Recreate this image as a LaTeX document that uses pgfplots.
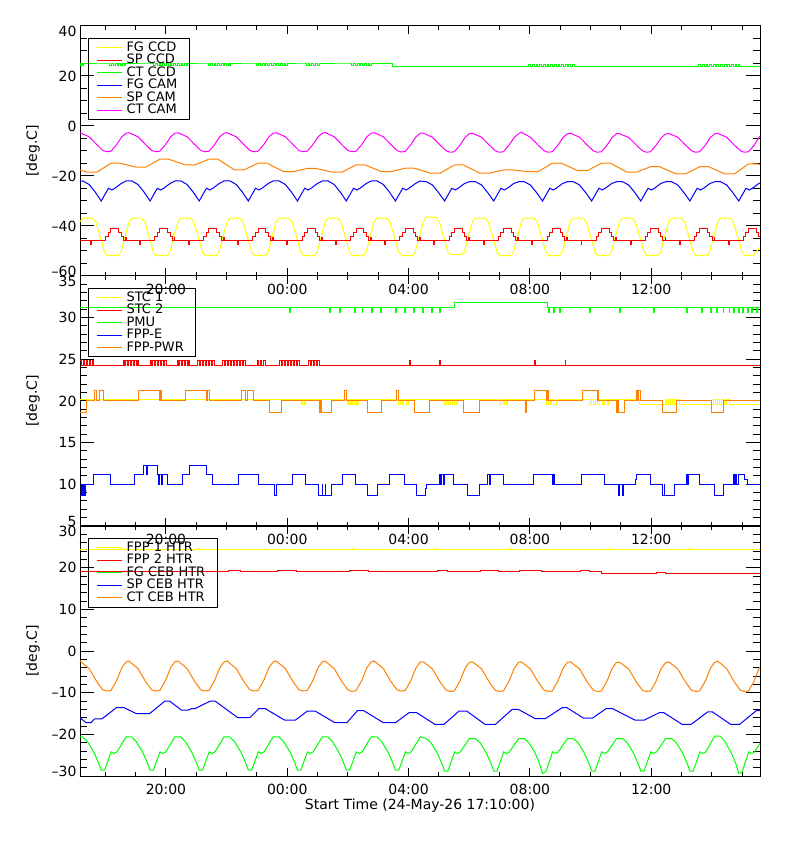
\documentclass[border=0pt]{standalone}
\usepackage{fontspec}
\setmainfont{DejaVu Sans}
\usepackage{pgfplots}
\pgfplotsset{compat=1.18}
\usepackage{pgfplotstable}
\definecolor{pyel}{RGB}{255,255,0}
\definecolor{pred}{RGB}{255,0,0}
\definecolor{pgrn}{RGB}{0,255,0}
\definecolor{pblu}{RGB}{0,0,255}
\definecolor{pora}{RGB}{255,128,0}
\definecolor{pmag}{RGB}{255,0,255}
\newcommand{\up}[1]{\raisebox{4.5pt}[\height][\depth]{#1}}
\newcommand{\dn}[1]{\raisebox{-5pt}[\height][\depth]{#1}}

\pgfplotstableread{
t ctcam ctceb
0.00 -2.7 -2.4
0.30 -4.3 -4.2
0.55 -7.4 -7.3
0.75 -9.8 -9.3
0.88 -10.3 -9.6
1.02 -10.1 -9.5
1.20 -7.6 -7.2
1.38 -4.3 -4.0
1.52 -2.9 -2.6
1.61 -2.7 -2.4
1.91 -4.3 -4.2
2.16 -7.4 -7.3
2.36 -9.8 -9.3
2.49 -10.3 -9.6
2.63 -10.1 -9.5
2.81 -7.6 -7.2
2.99 -4.3 -4.0
3.13 -2.9 -2.6
3.23 -2.7 -2.4
3.53 -4.3 -4.2
3.78 -7.4 -7.3
3.98 -9.8 -9.3
4.11 -10.3 -9.6
4.25 -10.1 -9.5
4.43 -7.6 -7.2
4.61 -4.3 -4.0
4.75 -2.9 -2.6
4.85 -2.7 -2.4
5.15 -4.3 -4.2
5.40 -7.4 -7.3
5.60 -9.8 -9.3
5.73 -10.3 -9.6
5.87 -10.1 -9.5
6.05 -7.6 -7.2
6.23 -4.3 -4.0
6.37 -2.9 -2.6
6.47 -2.7 -2.4
6.77 -4.3 -4.2
7.02 -7.4 -7.3
7.22 -9.8 -9.3
7.35 -10.3 -9.6
7.49 -10.1 -9.5
7.67 -7.6 -7.2
7.85 -4.3 -4.0
7.99 -2.9 -2.6
8.08 -2.6 -2.4
8.38 -4.3 -4.2
8.63 -7.4 -7.3
8.83 -9.8 -9.3
8.96 -10.3 -9.7
9.10 -10.1 -9.5
9.28 -7.6 -7.2
9.46 -4.3 -4.0
9.60 -2.9 -2.6
9.70 -2.7 -2.4
10.00 -4.3 -4.2
10.25 -7.4 -7.3
10.45 -9.8 -9.3
10.58 -10.4 -9.6
10.72 -10.2 -9.5
10.90 -7.6 -7.2
11.08 -4.3 -4.0
11.22 -2.9 -2.6
11.32 -2.9 -2.6
11.62 -4.5 -4.3
11.87 -7.6 -7.4
12.07 -9.9 -9.4
12.20 -10.5 -9.7
12.34 -10.3 -9.6
12.52 -7.8 -7.3
12.70 -4.5 -4.1
12.84 -3.1 -2.7
12.94 -2.9 -2.6
13.24 -4.5 -4.3
13.49 -7.6 -7.4
13.69 -9.9 -9.4
13.82 -10.5 -9.7
13.96 -10.3 -9.6
14.14 -7.8 -7.3
14.32 -4.5 -4.1
14.46 -3.1 -2.7
14.55 -2.5 -2.6
14.85 -4.5 -4.3
15.10 -7.6 -7.4
15.30 -9.9 -9.4
15.43 -10.5 -9.7
15.57 -10.3 -9.6
15.75 -7.8 -7.3
15.93 -4.5 -4.1
16.07 -3.1 -2.7
16.17 -2.9 -2.6
16.47 -4.5 -4.3
16.72 -7.6 -7.4
16.92 -9.9 -9.4
17.05 -10.5 -9.7
17.19 -10.3 -9.6
17.37 -7.8 -7.3
17.55 -4.5 -4.1
17.69 -3.1 -2.7
17.79 -3.1 -2.7
18.09 -4.6 -4.3
18.34 -7.6 -7.4
18.54 -9.9 -9.4
18.67 -10.5 -9.7
18.81 -10.3 -9.6
18.99 -7.8 -7.3
19.17 -4.6 -4.1
19.31 -3.2 -2.8
19.41 -3.0 -2.6
19.71 -4.5 -4.3
19.96 -7.6 -7.4
20.16 -9.9 -9.4
20.29 -10.5 -9.7
20.43 -10.3 -9.6
20.61 -7.8 -7.3
20.79 -4.5 -4.1
20.93 -3.1 -2.7
21.02 -2.9 -2.4
21.32 -4.5 -4.2
21.57 -7.6 -7.4
21.77 -9.9 -9.4
21.90 -10.5 -9.7
22.04 -10.3 -9.6
22.22 -7.8 -7.3
22.40 -4.3 -4.0
22.42 -4.1 -3.8
}\wavetab

\pgfplotsset{
 panel/.style={
  width=680pt,height=250pt,scale only axis,anchor=south west,
  xmin=0,xmax=22.42,
  xtick={2.8333,6.8333,10.8333,14.8333,18.8333},
  xticklabels={20:00,00:00,04:00,08:00,12:00},
  minor xtick={0.8333,1.8333,3.8333,4.8333,5.8333,7.8333,8.8333,9.8333,11.8333,12.8333,13.8333,15.8333,16.8333,17.8333,19.8333,20.8333,21.8333},
  xtick pos=both, ytick pos=both, xticklabel pos=lower, yticklabel pos=left,
  tick align=inside,
  major tick length=14pt, minor tick length=7pt,
  xtick style={/pgfplots/major tick length=8pt,/pgfplots/minor tick length=4pt},
  every tick/.style={black,line width=1pt},
  axis line style={line width=1pt},
  tick label style={font=\fontsize{14}{16}\selectfont},
  xticklabel style={yshift=-4.3pt},
  ylabel={[deg.C]},
  every axis y label/.style={at={(axis description cs:-0.069,0.5)},rotate=90,anchor=center,font=\fontsize{14}{16}\selectfont},
  legend style={at={(axis description cs:0,1)},anchor=north west,xshift=8pt,yshift=-12pt,
    draw=black,line width=1pt,fill=none,inner xsep=8pt,inner ysep=3pt,
    font=\fontsize{13}{14}\selectfont,row sep=0pt,
    nodes={inner xsep=4pt,inner ysep=0pt,text height=9.6pt,text depth=2.9pt}},
  legend cell align=left,
  legend image code/.code={\draw[#1,line width=1pt] (0pt,0pt) -- (25pt,0pt);},
  every axis plot/.append style={line width=1pt},
 }
}

\begin{document}
\begin{tikzpicture}
\path[use as bounding box] (0pt,0pt) rectangle (800pt,850pt);

% ---------------- Panel 1 ----------------
\begin{axis}[panel, at={(80pt,574pt)},
  ymin=-60, ymax=40, ytick={-60,-40,-20,0,20,40},
  yticklabels={\up{–60},–40,–20,0,20,\dn{40}}, minor y tick num=3]
% FG CCD
\addplot[pyel] coordinates {
(0,-38.3)
(0.09,-36.9)(0.42,-36.9)(0.52,-38.3)(0.67,-44.4)(0.81,-50.5)(0.91,-51.9)(1.25,-51.9)(1.35,-50.5)(1.48,-44.4)(1.62,-38.3)
(1.70,-36.9)(2.03,-36.9)(2.13,-38.3)(2.28,-44.4)(2.42,-50.5)(2.52,-51.9)(2.86,-51.9)(2.96,-50.5)(3.09,-44.4)(3.23,-38.3)
(3.32,-36.9)(3.65,-36.9)(3.75,-38.3)(3.90,-44.4)(4.04,-50.5)(4.14,-51.9)(4.48,-51.9)(4.58,-50.5)(4.71,-44.4)(4.85,-38.3)
(4.94,-36.9)(5.27,-36.9)(5.37,-38.3)(5.52,-44.4)(5.66,-50.5)(5.76,-51.9)(6.10,-51.9)(6.20,-50.5)(6.33,-44.4)(6.47,-38.3)
(6.56,-36.9)(6.89,-36.9)(6.99,-38.3)(7.14,-44.4)(7.28,-50.5)(7.38,-51.9)(7.72,-51.9)(7.82,-50.5)(7.95,-44.4)(8.09,-38.3)
(8.17,-36.9)(8.50,-36.9)(8.60,-38.3)(8.75,-44.4)(8.89,-50.5)(8.99,-51.9)(9.33,-51.9)(9.43,-50.5)(9.56,-44.4)(9.70,-38.3)
(9.79,-36.9)(10.12,-36.9)(10.22,-38.3)(10.37,-44.4)(10.51,-50.5)(10.61,-51.9)(10.95,-51.9)(11.05,-50.5)(11.18,-44.4)(11.32,-38.3)
(11.41,-36.4)(11.74,-36.6)(11.84,-38.3)(11.99,-44.4)(12.13,-50.5)(12.23,-51.5)(12.57,-51.5)(12.67,-50.5)(12.80,-44.4)(12.94,-38.3)
(13.03,-36.9)(13.36,-36.9)(13.46,-38.3)(13.61,-44.4)(13.75,-50.5)(13.85,-51.9)(14.19,-51.9)(14.29,-50.5)(14.42,-44.4)(14.56,-38.3)
(14.64,-36.9)(14.97,-36.9)(15.07,-38.3)(15.22,-44.4)(15.36,-50.5)(15.46,-51.9)(15.80,-51.9)(15.90,-50.5)(16.03,-44.4)(16.17,-38.3)
(16.26,-36.9)(16.59,-36.9)(16.69,-38.3)(16.84,-44.4)(16.98,-50.5)(17.08,-51.9)(17.42,-51.9)(17.52,-50.5)(17.65,-44.4)(17.79,-38.3)
(17.88,-36.9)(18.21,-36.9)(18.31,-38.3)(18.46,-44.4)(18.60,-50.5)(18.70,-51.9)(19.04,-51.9)(19.14,-50.5)(19.27,-44.4)(19.41,-38.3)
(19.50,-36.9)(19.83,-36.9)(19.93,-38.3)(20.08,-44.4)(20.22,-50.5)(20.32,-51.9)(20.66,-51.9)(20.76,-50.5)(20.89,-44.4)(21.03,-38.3)
(21.11,-36.9)(21.44,-36.9)(21.54,-38.3)(21.69,-44.4)(21.83,-50.5)(21.93,-51.9)(22.20,-51.9)(22.32,-50.0)(22.42,-48.4)
};
% SP CCD
\addplot[pred, const plot] coordinates {
(0,-46.0)
(0.35,-47.4)(0.38,-46.0)(0.85,-44.2)(0.93,-42.6)(1.02,-41.2)(1.28,-42.6)(1.36,-44.2)(1.43,-46.0)(1.50,-44.6)(1.52,-46.0)
(1.96,-47.4)(1.99,-46.0)(2.46,-44.2)(2.54,-42.6)(2.63,-41.2)(2.89,-42.6)(2.97,-44.2)(3.04,-46.0)(3.11,-44.6)(3.13,-46.0)
(3.58,-47.4)(3.61,-46.0)(4.08,-44.2)(4.16,-42.6)(4.25,-41.2)(4.51,-42.6)(4.59,-44.2)(4.66,-46.0)(4.73,-44.6)(4.75,-46.0)
(5.20,-47.4)(5.23,-46.0)(5.70,-44.2)(5.78,-42.6)(5.87,-41.2)(6.13,-42.6)(6.21,-44.2)(6.28,-46.0)(6.35,-44.6)(6.37,-46.0)
(6.82,-47.4)(6.85,-46.0)(7.32,-44.2)(7.40,-42.6)(7.49,-41.2)(7.75,-42.6)(7.83,-44.2)(7.90,-46.0)(7.97,-44.6)(7.99,-46.0)
(8.43,-47.4)(8.46,-46.0)(8.93,-44.2)(9.01,-42.6)(9.10,-41.2)(9.36,-42.6)(9.44,-44.2)(9.51,-46.0)(9.58,-44.6)(9.60,-46.0)
(10.05,-47.4)(10.08,-46.0)(10.55,-44.2)(10.63,-42.6)(10.72,-41.2)(10.98,-42.6)(11.06,-44.2)(11.13,-46.0)(11.20,-44.6)(11.22,-46.0)
(11.67,-47.4)(11.70,-46.0)(12.17,-44.2)(12.25,-42.6)(12.34,-41.2)(12.60,-42.6)(12.68,-44.2)(12.75,-46.0)(12.82,-44.6)(12.84,-46.0)
(13.29,-47.4)(13.32,-46.0)(13.79,-44.2)(13.87,-42.6)(13.96,-41.2)(14.22,-42.6)(14.30,-44.2)(14.37,-46.0)(14.44,-44.6)(14.46,-46.0)
(14.90,-47.4)(14.93,-46.0)(15.40,-44.2)(15.48,-42.6)(15.57,-41.2)(15.83,-42.6)(15.91,-44.2)(15.98,-46.0)(16.05,-44.6)(16.07,-46.0)
(16.52,-47.4)(16.55,-46.0)(17.02,-44.2)(17.10,-42.6)(17.19,-41.2)(17.45,-42.6)(17.53,-44.2)(17.60,-46.0)(17.67,-44.6)(17.69,-46.0)
(18.14,-47.4)(18.17,-46.0)(18.64,-44.2)(18.72,-42.6)(18.81,-41.2)(19.07,-42.6)(19.15,-44.2)(19.22,-46.0)(19.29,-44.6)(19.31,-46.0)
(19.76,-47.4)(19.79,-46.0)(20.26,-44.2)(20.34,-42.6)(20.43,-41.2)(20.69,-42.6)(20.77,-44.2)(20.84,-46.0)(20.91,-44.6)(20.93,-46.0)
(21.37,-47.4)(21.40,-46.0)(21.87,-44.2)(21.95,-42.6)(22.04,-41.2)(22.30,-42.6)(22.38,-44.2)(22.42,-44.2)
};
% CT CCD
\addplot[pgrn, const plot] coordinates {
(0.00,24.8)(0.03,24.0)(0.06,24.8)(0.09,24.0)(0.12,24.8)
(0.92,24.8)(0.98,24.0)(1.04,24.8)(1.10,24.0)(1.16,24.8)(1.22,24.0)(1.28,24.8)(1.34,24.0)(1.40,24.8)(1.46,24.0)(1.50,24.8)
(2.37,24.8)(2.43,24.0)(2.49,24.8)(2.55,24.0)(2.61,24.8)(2.67,24.0)(2.73,24.8)(2.79,24.0)(2.85,24.8)(2.91,24.0)(2.97,24.8)(3.03,24.0)(3.09,24.8)(3.15,24.0)(3.21,24.8)(3.27,24.0)(3.33,24.8)(3.39,24.0)(3.45,24.8)(3.51,24.0)(3.55,24.8)
(4.18,24.8)(4.24,24.0)(4.30,24.8)(4.36,24.0)(4.42,24.8)(4.48,24.0)(4.54,24.8)(4.60,24.0)(4.66,24.8)(4.72,24.0)(4.78,24.8)(4.84,24.0)(4.90,24.8)(4.94,24.0)(4.97,24.8)
(5.77,24.8)(5.83,24.0)(5.89,24.8)(5.95,24.0)(6.01,24.8)(6.07,24.0)(6.13,24.8)(6.19,24.0)(6.25,24.8)(6.31,24.0)(6.37,24.8)(6.43,24.0)(6.49,24.8)(6.55,24.0)(6.61,24.8)(6.67,24.0)(6.73,24.8)(6.79,24.0)(6.83,24.8)
(7.40,24.8)(7.46,24.0)(7.52,24.8)(7.58,24.0)(7.64,24.8)(7.70,24.0)(7.76,24.8)(7.82,24.0)(7.88,24.8)
(8.90,24.8)(8.96,24.0)(9.02,24.8)(9.08,24.0)(9.14,24.8)(9.20,24.0)(9.26,24.8)(9.32,24.0)(9.38,24.8)(9.44,24.0)(9.50,24.8)(9.56,24.0)(9.60,24.8)
(10.30,23.6)
(14.80,24.4)(14.86,23.6)(14.92,24.4)(14.98,23.6)(15.04,24.4)(15.10,23.6)(15.16,24.4)(15.22,23.6)(15.28,24.4)(15.34,23.6)(15.40,24.4)(15.46,23.6)(15.52,24.4)(15.58,23.6)(15.64,24.4)(15.70,23.6)(15.76,24.4)(15.82,23.6)(15.88,24.4)(15.94,23.6)(16.00,24.4)(16.06,23.6)(16.12,24.4)(16.18,23.6)(16.24,24.4)(16.30,23.6)
(20.40,24.4)(20.46,23.6)(20.52,24.4)(20.58,23.6)(20.64,24.4)(20.70,23.6)(20.76,24.4)(20.82,23.6)(20.88,24.4)(20.94,23.6)(21.00,24.4)(21.06,23.6)(21.12,24.4)(21.18,23.6)(21.24,24.4)(21.30,23.6)(21.36,24.4)(21.42,23.6)(21.48,24.4)(21.54,23.6)(21.60,24.4)(21.66,23.6)(21.72,24.4)(21.76,23.6)
(22.42,23.6)
};
% FG CAM
\addplot[pblu] coordinates {
(0,-22.1)
(0.10,-22.0)(0.30,-23.4)(0.50,-26.4)(0.70,-30.0)(0.85,-26.8)(0.94,-24.9)(1.05,-25.6)(1.15,-24.9)(1.36,-23.0)(1.52,-22.0)
(1.71,-22.0)(1.91,-23.4)(2.11,-26.4)(2.31,-30.0)(2.46,-26.8)(2.55,-24.9)(2.66,-25.6)(2.76,-24.9)(2.97,-23.0)(3.13,-22.0)
(3.33,-22.0)(3.53,-23.4)(3.73,-26.4)(3.93,-30.0)(4.08,-26.8)(4.17,-24.9)(4.28,-25.6)(4.38,-24.9)(4.59,-23.0)(4.75,-22.0)
(4.95,-22.0)(5.15,-23.4)(5.35,-26.4)(5.55,-30.0)(5.70,-26.8)(5.79,-24.9)(5.90,-25.6)(6.00,-24.9)(6.21,-23.0)(6.37,-22.0)
(6.57,-22.0)(6.77,-23.4)(6.97,-26.4)(7.17,-30.0)(7.32,-26.8)(7.41,-24.9)(7.52,-25.6)(7.62,-24.9)(7.83,-23.0)(7.99,-22.0)
(8.18,-22.0)(8.38,-23.4)(8.58,-26.4)(8.78,-30.0)(8.93,-26.8)(9.02,-24.9)(9.13,-25.6)(9.23,-24.9)(9.44,-23.0)(9.60,-22.0)
(9.80,-22.0)(10.00,-23.4)(10.20,-26.4)(10.40,-30.0)(10.55,-26.8)(10.64,-24.9)(10.75,-25.6)(10.85,-24.9)(11.06,-23.0)(11.22,-22.0)
(11.42,-22.3)(11.62,-23.6)(11.82,-26.6)(12.02,-30.0)(12.17,-26.8)(12.26,-24.9)(12.37,-25.6)(12.47,-24.9)(12.68,-23.0)(12.84,-22.3)
(13.04,-22.3)(13.24,-23.6)(13.44,-26.6)(13.64,-30.0)(13.79,-26.8)(13.88,-24.9)(13.99,-25.6)(14.09,-24.9)(14.30,-23.0)(14.46,-22.3)
(14.65,-22.3)(14.85,-23.6)(15.05,-26.6)(15.25,-30.0)(15.40,-26.8)(15.49,-24.9)(15.60,-25.6)(15.70,-24.9)(15.91,-23.0)(16.07,-22.3)
(16.27,-22.3)(16.47,-23.6)(16.67,-26.6)(16.87,-30.0)(17.02,-26.8)(17.11,-24.9)(17.22,-25.6)(17.32,-24.9)(17.53,-23.0)(17.69,-22.3)
(17.89,-22.3)(18.09,-23.6)(18.29,-26.6)(18.49,-30.0)(18.64,-26.8)(18.73,-24.9)(18.84,-25.6)(18.94,-24.9)(19.15,-23.0)(19.31,-22.3)
(19.51,-22.3)(19.71,-23.6)(19.91,-26.6)(20.11,-30.0)(20.26,-26.8)(20.35,-24.9)(20.46,-25.6)(20.56,-24.9)(20.77,-23.0)(20.93,-22.3)
(21.12,-22.3)(21.32,-23.6)(21.52,-26.6)(21.72,-30.0)(21.87,-26.8)(21.96,-24.9)(22.07,-25.6)(22.17,-24.9)(22.38,-23.0)(22.42,-22.8)
};
% SP CAM
\addplot[pora] coordinates {
(0,-17.6)
(0.25,-18.5)(0.55,-18.5)(1.02,-14.9)(1.32,-14.9)
(1.86,-16.5)(2.16,-16.5)(2.63,-13.3)(2.93,-13.3)
(3.48,-15.6)(3.78,-15.6)(4.25,-13.3)(4.55,-13.3)
(5.10,-17.6)(5.40,-17.6)(5.87,-14.9)(6.17,-14.9)
(6.72,-18.3)(7.02,-18.3)(7.49,-17.0)(7.79,-17.0)
(8.33,-18.5)(8.63,-18.5)(9.10,-15.6)(9.40,-15.6)
(9.95,-18.3)(10.25,-18.3)(10.72,-16.9)(11.02,-16.9)
(11.57,-18.9)(11.87,-18.9)(12.34,-15.6)(12.64,-15.6)
(13.19,-18.9)(13.49,-18.9)(13.96,-17.6)(14.26,-17.6)
(14.80,-18.3)(15.10,-18.3)(15.57,-14.9)(15.87,-14.9)
(16.42,-17.9)(16.72,-17.9)(17.19,-14.9)(17.49,-14.9)
(18.04,-18.5)(18.34,-18.5)(18.81,-16.3)(19.11,-16.3)
(19.66,-19.2)(19.96,-19.2)(20.43,-16.3)(20.73,-16.3)
(21.27,-19.2)(21.57,-19.2)(22.04,-15.2)(22.34,-15.2)(22.42,-15.4)
};
% CT CAM
\addplot[pmag] table[x=t,y=ctcam] {\wavetab};
\legend{FG CCD,SP CCD,CT CCD,FG CAM,SP CAM,CT CAM}
\end{axis}

% ---------------- Panel 2 ----------------
\begin{axis}[panel, at={(80pt,324pt)},
  ymin=5, ymax=35, ytick={5,10,15,20,25,30,35},
  yticklabels={\up{5},10,15,20,25,30,\dn{35}}, minor y tick num=4]
% STC 1
\addplot[pyel, const plot] coordinates {
(0,20.15)(7.25,20.15)(7.30,19.6)(7.35,20.15)(7.40,19.6)(7.45,20.15)
(8.80,20.15)(8.83,19.6)(8.86,20.15)(8.89,19.6)(8.92,20.15)(8.95,19.6)(8.98,20.15)(9.04,19.6)(9.10,20.15)(9.16,19.6)(9.18,20.15)
(10.44,20.15)(10.50,19.6)(10.56,20.15)(10.62,19.6)(10.68,20.15)(10.76,19.6)(10.84,20.15)
(11.96,20.15)(12.02,19.6)(12.08,20.15)(12.14,19.6)(12.20,20.15)(12.28,19.6)(12.36,20.15)(12.42,19.6)(12.44,20.15)
(13.77,20.15)(13.83,19.6)(13.89,20.15)(13.95,19.6)(14.01,20.15)(14.07,19.6)(14.09,20.15)
(15.32,20.15)(15.38,19.6)(15.44,20.15)(15.50,19.6)(15.56,20.15)(15.62,19.6)(15.70,20.15)
(16.74,20.15)(16.80,19.6)(16.86,20.15)(16.92,19.6)(16.98,20.15)(17.06,19.6)(17.14,20.15)(17.22,19.6)(17.30,20.15)(17.38,19.6)(17.42,20.15)
(18.45,19.55)(19.30,20.15)(19.35,19.55)(19.40,20.15)(19.46,19.55)(19.52,20.15)(19.60,19.55)(19.68,20.15)(19.76,19.55)
(20.90,20.15)(20.96,19.55)(21.02,20.15)(21.08,19.55)(21.16,20.15)(21.24,19.55)(21.32,20.15)(21.40,19.55)(22.42,19.55)
};
% STC 2
\addplot[pred, const plot] coordinates {
(0,24.9)(0.05,24.25)(0.10,24.9)(0.15,24.25)(0.20,24.9)(0.25,24.25)(0.30,24.9)(0.35,24.25)(0.40,24.9)(0.43,24.25)
(1.42,24.9)(1.46,24.25)(1.51,24.9)(1.56,24.25)(1.61,24.9)(1.66,24.25)(1.71,24.9)(1.76,24.25)(1.81,24.9)(1.86,24.25)(1.91,24.9)(1.93,24.25)
(2.31,24.9)(2.35,24.25)(2.40,24.9)(2.45,24.25)(2.50,24.9)(2.55,24.25)(2.60,24.9)(2.65,24.25)(2.70,24.9)(2.75,24.25)(2.80,24.9)(2.85,24.25)
(3.20,24.9)(3.24,24.25)(3.29,24.9)(3.34,24.25)(3.39,24.9)(3.44,24.25)(3.49,24.9)(3.54,24.25)(3.59,24.9)(3.62,24.25)
(3.89,24.9)(3.93,24.25)(3.98,24.9)(4.03,24.25)(4.08,24.9)(4.13,24.25)(4.18,24.9)(4.23,24.25)(4.28,24.9)(4.33,24.25)(4.38,24.9)(4.43,24.25)
(4.71,24.9)(4.75,24.25)(4.80,24.9)(4.85,24.25)(4.90,24.9)(4.95,24.25)(5.00,24.9)(5.05,24.25)(5.10,24.9)(5.15,24.25)(5.20,24.9)(5.25,24.25)(5.30,24.9)(5.35,24.25)(5.40,24.9)(5.45,24.25)
(5.86,24.9)(5.90,24.25)(5.95,24.9)(6.00,24.25)(6.05,24.9)(6.10,24.25)
(6.59,24.9)(6.63,24.25)(6.68,24.9)(6.73,24.25)(6.78,24.9)(6.83,24.25)(6.88,24.9)(6.93,24.25)(6.98,24.9)(7.03,24.25)(7.08,24.9)(7.13,24.25)(7.18,24.9)(7.23,24.25)
(7.55,24.9)(7.59,24.25)(7.64,24.9)(7.69,24.25)(7.74,24.9)(7.79,24.25)(7.84,24.9)(7.89,24.25)
(10.87,24.9)(10.89,24.25)(11.86,24.9)(11.88,24.25)(15.00,24.9)(15.02,24.25)(16.00,24.9)(16.02,24.25)
(22.42,24.25)
};
% PMU
\addplot[pgrn, const plot] coordinates {
(0,31.2)(6.92,30.6)(6.95,31.2)(8.24,30.6)(8.27,31.2)(8.57,30.6)(8.60,31.2)(9.06,30.6)(9.09,31.2)(9.30,30.6)(9.33,31.2)(9.60,30.6)(9.63,31.2)(9.90,30.6)(9.93,31.2)(10.40,30.6)(10.43,31.2)(10.70,30.6)(10.73,31.2)(11.00,30.6)(11.03,31.2)(11.30,30.6)(11.33,31.2)(11.60,30.6)(11.63,31.2)(11.86,30.6)(11.89,31.2)
(12.36,31.8)(15.42,31.2)(15.45,30.6)(15.48,31.2)(15.60,30.6)(15.63,31.2)(15.80,30.6)(15.83,31.2)(16.80,30.6)(16.83,31.2)(17.80,30.6)(17.83,31.2)(18.90,30.6)(18.93,31.2)(20.00,30.6)(20.03,31.2)(20.50,30.6)(20.53,31.2)(20.80,30.6)(20.83,31.2)(21.00,30.6)(21.03,31.2)(21.20,30.6)(21.23,31.2)(21.40,30.6)(21.43,31.2)(21.55,30.6)(21.58,31.2)(21.70,30.6)(21.73,31.2)(21.85,30.6)(21.88,31.2)(22.00,30.6)(22.03,31.2)(22.15,30.6)(22.18,31.2)(22.30,30.6)(22.33,31.2)(22.42,31.2)
};
% FPP-E
\addplot[pblu, const plot] coordinates {
(0,8.7)(0.05,10.0)(0.08,8.7)(0.12,10.0)(0.15,8.7)(0.19,10.0)(0.43,11.2)(1.02,10.0)(1.81,11.2)(2.08,12.3)(2.20,11.2)(2.23,12.3)(2.54,11.2)(2.60,10.0)(2.62,11.2)(2.70,10.0)(2.72,11.2)(2.87,10.0)(3.39,11.2)(3.62,12.3)(4.18,11.2)(4.38,10.0)(5.24,11.2)(5.90,10.0)(6.42,8.7)(6.49,10.0)(7.02,11.2)(7.45,10.0)(7.87,8.7)(7.98,10.0)(8.00,8.7)(8.08,10.0)(8.10,8.7)(8.30,10.0)(8.67,11.2)(9.09,10.0)(9.49,8.7)(9.82,10.0)(10.21,11.2)(10.71,10.0)(11.10,8.7)(11.40,9.5)(11.43,10.0)(11.86,11.2)(11.90,10.0)(11.93,11.2)(12.00,10.0)(12.03,11.2)(12.30,10.0)(12.77,9.5)(12.79,8.7)(13.16,10.0)(13.45,11.2)(13.50,10.0)(13.53,11.2)(13.95,10.0)(14.94,11.2)(15.59,10.0)(15.62,11.2)(15.65,10.0)(16.55,11.2)(17.28,10.0)(17.76,8.7)(17.80,10.0)(17.88,8.7)(17.92,10.0)(18.30,10.6)(18.34,11.2)(18.80,10.0)(19.22,8.7)(19.26,10.0)(19.28,8.7)(19.60,10.0)(19.99,11.2)(20.03,10.0)(20.06,11.2)(20.43,10.0)(20.92,8.7)(21.20,10.0)(21.53,11.2)(21.58,10.0)(21.61,11.2)(21.66,10.0)(21.70,11.2)(21.91,10.6)(22.01,10.0)(22.42,10.0)
};
% FPP-PWR
\addplot[pora, const plot] coordinates {
(0,18.6)(0.22,20.0)(0.49,21.2)(0.55,20.0)(0.63,21.2)(0.76,20.0)(1.94,21.2)(2.61,20.0)(2.66,21.2)(2.69,20.0)(3.49,21.2)(4.17,20.0)(4.22,21.2)(4.26,20.0)(5.33,21.2)(5.46,20.0)(5.51,21.2)(5.71,20.0)(6.26,18.6)(6.65,20.0)(7.91,18.6)(7.94,20.0)(7.97,18.6)(8.29,20.0)(8.73,21.2)(8.79,20.0)(9.47,18.6)(9.94,20.0)(10.44,21.2)(10.51,20.0)(11.04,18.6)(11.53,20.0)(12.63,18.6)(13.18,20.0)(14.70,18.6)(14.73,20.0)(14.99,21.2)(15.38,20.0)(15.41,21.2)(15.45,20.0)(16.56,21.2)(17.05,20.0)(17.08,21.2)(17.11,20.0)(17.68,18.6)(17.72,20.0)(17.75,18.6)(17.96,20.0)(18.34,21.2)(18.38,20.0)(18.42,21.2)(18.47,20.0)(19.22,18.6)(19.66,20.0)(20.81,18.6)(21.23,20.0)(22.42,20.0)
};
\legend{STC 1,STC 2,PMU,FPP-E,FPP-PWR}
\end{axis}

% ---------------- Panel 3 ----------------
\begin{axis}[panel, at={(80pt,74pt)},
  ymin=-30, ymax=30, ytick={-30,-20,-10,0,10,20,30},
  yticklabels={\up{–30},–20,–10,0,10,20,\dn{30}}, minor y tick num=4,
  xlabel={Start Time (24-May-26 17:10:00)},
  every axis x label/.style={at={(axis description cs:0.5,0)},anchor=center,yshift=-30pt,font=\fontsize{14}{16}\selectfont}]
% FPP 1 HTR
\addplot[pyel, const plot] coordinates {(0,24.4)(1.3,24.65)(1.33,24.4)(3.9,24.65)(3.93,24.4)(6.1,24.65)(6.13,24.4)(9.0,24.65)(9.03,24.4)(11.7,24.65)(11.73,24.4)(14.2,24.65)(14.23,24.4)(17.4,24.65)(17.43,24.4)(20.1,24.65)(20.13,24.4)(22.42,24.4)};
% FPP 2 HTR
\addplot[pred, const plot] coordinates {
(0,19.0)(4.88,19.35)(5.30,19.0)(6.50,19.35)(7.15,19.0)(8.90,19.35)(9.50,19.0)(11.80,19.35)(12.10,19.0)(13.20,19.35)(13.80,19.0)(14.50,19.35)(15.20,19.0)(16.50,19.35)(16.80,19.0)(17.20,18.6)(19.00,18.9)(19.30,18.6)(22.42,18.6)
};
% FG CEB HTR
\addplot[pgrn] coordinates {
(0,-20.6)
(0.09,-20.6)(0.25,-21.8)(0.45,-24.2)(0.60,-26.6)(0.70,-28.6)(0.81,-28.6)(1.03,-24.2)(1.12,-24.6)(1.22,-24.2)(1.52,-20.6)
(1.70,-20.6)(1.86,-21.8)(2.06,-24.2)(2.21,-26.6)(2.31,-28.6)(2.42,-28.6)(2.64,-24.2)(2.73,-24.6)(2.83,-24.2)(3.13,-20.6)
(3.32,-20.6)(3.48,-21.8)(3.68,-24.2)(3.83,-26.6)(3.93,-28.6)(4.04,-28.6)(4.26,-24.2)(4.35,-24.6)(4.45,-24.2)(4.75,-20.6)
(4.94,-20.6)(5.10,-21.8)(5.30,-24.2)(5.45,-26.6)(5.55,-28.6)(5.66,-28.6)(5.88,-24.2)(5.97,-24.6)(6.07,-24.2)(6.37,-20.6)
(6.56,-20.6)(6.72,-21.8)(6.92,-24.2)(7.07,-26.6)(7.17,-28.6)(7.28,-28.6)(7.50,-24.2)(7.59,-24.6)(7.69,-24.2)(7.99,-20.6)
(8.17,-20.6)(8.33,-21.8)(8.53,-24.2)(8.68,-26.6)(8.78,-28.6)(8.89,-28.6)(9.11,-24.2)(9.20,-24.6)(9.30,-24.2)(9.60,-20.6)
(9.79,-20.6)(9.95,-21.8)(10.15,-24.2)(10.30,-26.6)(10.40,-28.6)(10.51,-28.6)(10.73,-24.2)(10.82,-24.6)(10.92,-24.2)(11.22,-20.6)
(11.41,-21.0)(11.57,-22.0)(11.77,-24.4)(11.92,-26.8)(12.02,-28.8)(12.13,-28.8)(12.35,-24.2)(12.44,-24.6)(12.54,-24.2)(12.84,-21.0)
(13.03,-21.0)(13.19,-22.0)(13.39,-24.4)(13.54,-26.8)(13.64,-28.8)(13.75,-28.8)(13.97,-24.2)(14.06,-24.6)(14.16,-24.2)(14.46,-21.0)
(14.64,-21.0)(14.80,-22.0)(15.00,-24.4)(15.15,-27.0)(15.25,-29.4)(15.36,-29.0)(15.58,-24.2)(15.67,-24.6)(15.77,-24.2)(16.07,-21.0)
(16.26,-21.0)(16.42,-22.0)(16.62,-24.4)(16.77,-26.8)(16.87,-28.8)(16.98,-28.8)(17.20,-24.2)(17.29,-24.6)(17.39,-24.2)(17.69,-21.0)
(17.88,-21.0)(18.04,-22.0)(18.24,-24.4)(18.39,-26.8)(18.49,-28.8)(18.60,-28.8)(18.82,-24.2)(18.91,-24.6)(19.01,-24.2)(19.31,-21.0)
(19.50,-21.0)(19.66,-22.0)(19.86,-24.4)(20.01,-26.8)(20.11,-28.8)(20.22,-28.8)(20.44,-24.2)(20.53,-24.6)(20.63,-24.2)(20.93,-20.4)
(21.11,-20.4)(21.27,-21.8)(21.47,-24.4)(21.62,-27.0)(21.72,-29.4)(21.83,-29.0)(22.05,-24.2)(22.14,-24.6)(22.24,-24.2)(22.42,-22.2)
};
% SP CEB HTR
\addplot[pblu] coordinates {
(0,-16.0)(0.20,-17.2)(0.36,-17.2)(0.48,-16.3)(0.72,-16.3)(1.20,-13.6)(1.45,-13.6)(1.85,-15.0)(2.30,-15.0)(2.80,-12.0)(2.95,-12.0)(3.35,-14.2)(3.55,-14.2)(3.70,-13.8)(3.80,-13.8)(4.30,-12.0)(4.45,-12.0)(5.20,-16.0)(5.60,-16.0)(5.90,-13.8)(6.10,-13.8)(6.75,-16.6)(7.10,-16.6)(7.50,-14.4)(7.75,-14.4)(8.40,-17.2)(8.80,-17.2)(9.15,-14.3)(9.35,-14.3)(10.00,-17.2)(10.40,-17.2)(10.85,-14.8)(11.10,-14.8)(11.70,-17.6)(12.00,-17.6)(12.50,-14.4)(12.75,-14.4)(13.35,-17.6)(13.70,-17.6)(14.25,-14.0)(14.45,-14.0)(15.00,-16.2)(15.35,-16.2)(15.90,-13.6)(16.05,-13.6)(16.60,-16.1)(16.90,-16.1)(17.35,-13.8)(17.55,-13.8)(18.30,-16.6)(18.60,-16.6)(19.10,-14.8)(19.25,-14.8)(19.85,-17.6)(20.15,-17.6)(20.70,-14.6)(20.85,-14.6)(21.45,-17.6)(21.75,-17.6)(22.30,-14.3)(22.42,-14.3)
};
% CT CEB HTR
\addplot[pora] table[x=t,y=ctceb] {\wavetab};
\legend{FPP 1 HTR,FPP 2 HTR,FG CEB HTR,SP CEB HTR,CT CEB HTR}
\end{axis}
\end{tikzpicture}
\end{document}
